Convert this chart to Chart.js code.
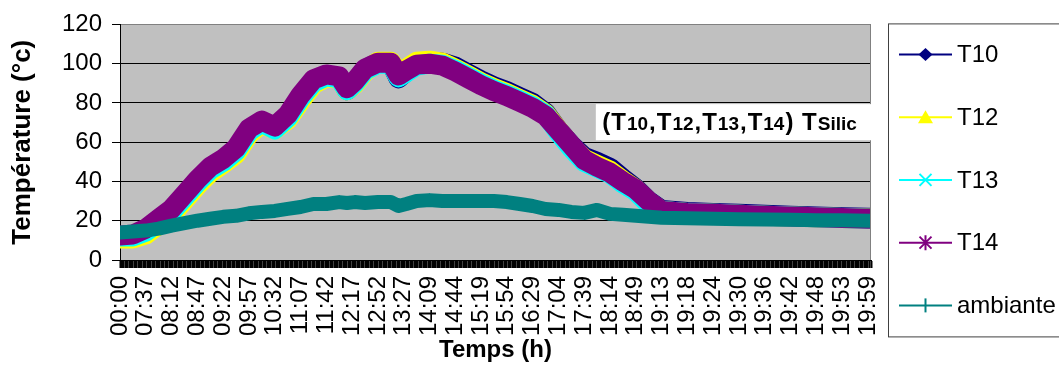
<!DOCTYPE html>
<html><head><meta charset="utf-8">
<script src="https://cdn.jsdelivr.net/npm/chart.js@4/dist/chart.umd.min.js"></script>
<style>html,body{margin:0;padding:0;background:#fff;}canvas{display:block;}</style>
</head><body>
<canvas id="c" width="1059" height="365" style="width:1059px;height:365px"></canvas>
<script>
const tickLabels = ['00:00','07:37','08:12','08:47','09:22','09:57','10:32','11:07','11:42','12:17','12:52','13:27','14:09','14:44','15:19','15:54','16:29','17:04','17:39','18:14','18:49','19:13','19:18','19:24','19:30','19:36','19:42','19:48','19:53','19:59'];
// positions along the time axis, in label-step units
const xPos = [0,0.5,1,1.5,2,2.5,3,3.5,4,4.5,5,5.5,6,6.5,7,7.5,8,8.5,8.8,9.1,9.5,10,10.5,10.8,11.1,11.5,12,12.5,13,13.5,14,14.5,15,15.5,16,16.5,17,17.5,18,18.5,19,19.5,20,20.5,21,22,23,24,25,26,27,28,29,29.12];
const t10 = [12,12.5,15,20,25,32.5,40,46.5,50.5,56,66,70,67,73,83,91,94,93,86.5,90,97,100.5,100.5,92.5,96,100,101,100.5,98.5,95,91.5,88.5,86,83,80,75,66,58.5,52.5,50,47,41.5,36.5,30,25.5,24.5,24,23.5,23,22.6,22.2,21.8,21.5,21.5];
const t12 = [11,11,13,18,23,30.5,38,44.5,49,54,64,69.5,66.5,71.5,81,89.5,93,92.5,86.5,89.5,96,101,101,95,97.5,101,101.5,100.5,97.5,94,90.5,87.5,85,82,79,74.5,66,58,51.5,48.5,45.5,40.5,36,29.5,25,24,23.5,23,22.5,22.2,21.8,21.4,21.2,21.2];
const t13 = [12,12,14.5,19.5,24.5,32,39.5,46,50,55.5,65.5,70,66.5,72.5,82.5,90.5,93.5,92.5,86.5,90,96.5,100,100,93,95.5,99,100,99.5,96.8,93.3,89.8,86.8,84.3,81.3,78.3,74,65,57,50,47,44,39,35,28.5,25,24,23.5,23,22.5,22.2,21.8,21.4,21,21];
const t14 = [12.5,13,16,21,26,33.5,41,47.5,51.5,57,67,71,68,74,84,92,94.5,93.5,87.5,91,97.5,100.5,100.5,94,96.5,99.5,100,99,96,92.5,89,86,83.5,80.5,77.5,73.5,66,58.5,51,47.5,44.5,40,36,30,25,24,23.5,23,22.5,22.2,21.8,21.4,21,21];
const ambiante = [14,14.5,15,16,17.5,18.8,20,21,22,22.5,23.8,24.5,25,26,27,28.5,28.5,29.5,29,29.5,29,29.5,29.5,27.5,28.5,30,30.5,30,30,30,30,30,29.5,28.5,27.5,26,25.5,24.5,24,25.5,23.5,23,22.5,22,21.5,21.3,21,20.8,20.6,20.5,20.3,20.2,20,20];
const seriesNames = ['T10','T12','T13','T14','ambiante'];
const seriesValues = [t10, t12, t13, t14, ambiante];
const seriesColors = ['#000080','#FFFF00','#00FFFF','#800080','#008080'];
const seriesMarkers = ['diamond','triangle','x','star','plus'];
const xMax = 29.12;
const annotationRuns = [['(',0],['T',0],['10',1],[',',0],['T',0],['12',1],[',',0],['T',0],['13',1],[',',0],['T',0],['14',1],[')',0],[' ',0],['T',0],['Silic',1]];

const FAMILY = '"Liberation Sans", Arial, Helvetica, sans-serif';
Chart.defaults.font.family = FAMILY;
Chart.defaults.color = '#000';

function drawMarker(ctx, type, cx, cy, color) {
  ctx.save();
  ctx.fillStyle = color; ctx.strokeStyle = color; ctx.lineWidth = 2;
  ctx.beginPath();
  if (type === 'diamond') {
    ctx.moveTo(cx, cy - 6.5); ctx.lineTo(cx + 7, cy); ctx.lineTo(cx, cy + 6.5); ctx.lineTo(cx - 7, cy); ctx.closePath(); ctx.fill();
  } else if (type === 'triangle') {
    ctx.moveTo(cx, cy - 7); ctx.lineTo(cx + 7.5, cy + 6); ctx.lineTo(cx - 7.5, cy + 6); ctx.closePath(); ctx.fill();
  } else if (type === 'x') {
    ctx.moveTo(cx - 6, cy - 6); ctx.lineTo(cx + 6, cy + 6); ctx.moveTo(cx + 6, cy - 6); ctx.lineTo(cx - 6, cy + 6); ctx.stroke();
  } else if (type === 'star') {
    ctx.moveTo(cx - 6, cy - 6); ctx.lineTo(cx + 6, cy + 6); ctx.moveTo(cx + 6, cy - 6); ctx.lineTo(cx - 6, cy + 6);
    ctx.moveTo(cx, cy - 7.5); ctx.lineTo(cx, cy + 7.5); ctx.stroke();
  } else {
    ctx.moveTo(cx, cy - 7); ctx.lineTo(cx, cy + 7); ctx.stroke();
  }
  ctx.restore();
}

const plotPlugin = {
  id: 'plotDecor',
  beforeDraw(chart) {
    const {ctx, chartArea: a} = chart;
    ctx.save();
    ctx.fillStyle = '#C0C0C0';
    ctx.fillRect(a.left, a.top, a.right - a.left, a.bottom - a.top);
    ctx.restore();
  },
  afterDatasetsDraw(chart) {
    const {ctx, chartArea: a, scales} = chart;
    ctx.save();
    ctx.strokeStyle = '#808080'; ctx.lineWidth = 1;
    ctx.beginPath(); ctx.moveTo(a.right - 0.5, a.top); ctx.lineTo(a.right - 0.5, a.bottom); ctx.stroke();
    // annotation box
    const bx0 = scales.x.getPixelForValue(18.45);
    const by0 = scales.y.getPixelForValue(79.4);
    const by1 = scales.y.getPixelForValue(61);
    ctx.fillStyle = '#fff';
    ctx.fillRect(bx0, by0, a.right + 6 - bx0, by1 - by0);
    let tx = scales.x.getPixelForValue(18.7);
    const ty = scales.y.getPixelForValue(66);
    ctx.fillStyle = '#000'; ctx.textBaseline = 'alphabetic';
    annotationRuns.forEach(([t, sub]) => {
      ctx.font = 'bold ' + (sub ? 19 : 24) + 'px ' + FAMILY;
      ctx.fillText(t, tx, ty);
      tx += ctx.measureText(t).width + 1;
    });
    ctx.restore();
  },
  afterDraw(chart) {
    const {ctx, chartArea: a} = chart;
    const left = a.right + 17, top = a.top - 1, bottom = a.top + 312;
    ctx.save();
    ctx.strokeStyle = '#404040'; ctx.lineWidth = 1;
    ctx.strokeRect(left + 0.5, top + 0.5, chart.width - left + 5, bottom - top);
    ctx.font = '24px ' + FAMILY; ctx.textBaseline = 'middle';
    chart.data.datasets.forEach((ds, i) => {
      const cy = top + 31 + i * 62.75;
      ctx.strokeStyle = ds.borderColor; ctx.lineWidth = 2;
      ctx.beginPath(); ctx.moveTo(left + 11, cy); ctx.lineTo(left + 64, cy); ctx.stroke();
      drawMarker(ctx, seriesMarkers[i], left + 37.5, cy, ds.borderColor);
      ctx.fillStyle = '#000';
      ctx.fillText(ds.label, left + 69, cy + 1);
    });
    ctx.restore();
  }
};

const datasets = seriesNames.map((name, i) => ({
  label: name,
  data: xPos.map((x, k) => ({x: x, y: seriesValues[i][k]})),
  borderColor: seriesColors[i],
  backgroundColor: seriesColors[i],
  borderWidth: i === 4 ? 14 : 20,
  borderJoinStyle: 'round',
  borderCapStyle: 'round',
  pointRadius: 0,
  tension: 0,
  fill: false,
  order: 5 - i
}));

new Chart(document.getElementById('c'), {
  type: 'line',
  data: {datasets: datasets},
  options: {
    responsive: false,
    animation: false,
    layout: {padding: {top: 16, right: 188, bottom: 0, left: 0}},
    plugins: {legend: {display: false}, tooltip: {enabled: false}},
    scales: {
      x: {
        type: 'linear', min: 0, max: xMax,
        afterFit: (s) => { s.height = 105; },
        ticks: {
          stepSize: 0.05, autoSkip: false, minRotation: 90, maxRotation: 90, padding: 8,
          color: '#000', font: {size: 24},
          callback: (v) => { const r = Math.round(v); return (Math.abs(v - r) < 1e-6 && tickLabels[r] !== undefined) ? tickLabels[r] : ''; }
        },
        grid: {drawOnChartArea: false, drawTicks: true, tickLength: 8, tickColor: '#000', tickWidth: 2, color: '#000'},
        border: {display: true, color: '#000', width: 1},
        title: {display: true, text: 'Temps (h)', color: '#000', font: {size: 24, weight: 'bold'}, padding: {top: 0, bottom: 0}}
      },
      y: {
        min: 0, max: 120,
        afterFit: (s) => { s.width = 120; },
        ticks: {stepSize: 20, padding: 10, color: '#000', font: {size: 24}},
        grid: {color: (c) => (c.tick && c.tick.value === 120) ? '#808080' : '#000', lineWidth: 1, tickLength: 8, tickColor: '#000'},
        border: {color: '#000', width: 1},
        title: {display: true, text: 'Température (°c)', color: '#000', font: {size: 26, weight: 'bold'}, padding: {top: 7, bottom: 13}}
      }
    }
  },
  plugins: [plotPlugin]
});
</script>
</body></html>
